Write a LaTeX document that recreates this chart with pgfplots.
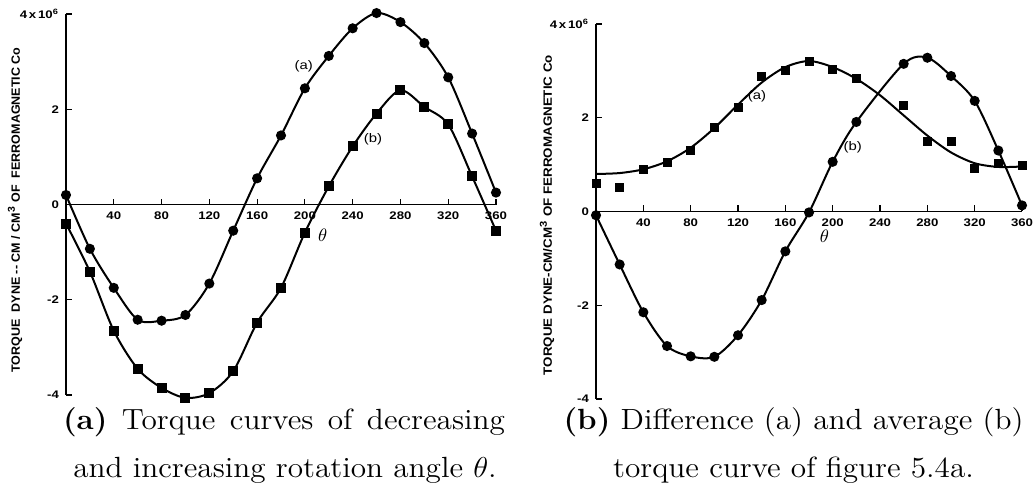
\documentclass[border=0pt]{standalone}
\usepackage{pgfplots}
\pgfplotsset{compat=1.18}
\usepackage{fontspec}
\usepackage{graphicx}
\newfontfamily\tkf[FakeStretch=1.2]{Liberation Sans}
\newfontfamily\lblf{Liberation Sans}

\pgfplotstableread{
x y
0 0.2
20 -0.93
40 -1.75
60 -2.42
80 -2.44
100 -2.32
120 -1.66
140 -0.55
160 0.55
180 1.45
200 2.44
220 3.12
240 3.7
260 4.02
280 3.83
300 3.39
320 2.67
340 1.49
360 0.25
}\leftA
\pgfplotstableread{
x y
0 -0.4
20 -1.41
40 -2.65
60 -3.45
80 -3.85
100 -4.06
120 -3.96
140 -3.5
160 -2.48
180 -1.75
200 -0.59
220 0.38
240 1.22
260 1.91
280 2.4
300 2.05
320 1.68
340 0.59
360 -0.55
}\leftB
\pgfplotstableread{
x y
0 0.6
20 0.51
40 0.89
60 1.04
80 1.3
100 1.79
120 2.21
140 2.89
160 3.02
180 3.21
200 3.04
220 2.83
260 2.26
280 1.49
300 1.49
320 0.91
340 1.02
360 0.98
}\rightA
\pgfplotstableread{
x y
0 0.8
20 0.82
40 0.9
60 1.07
80 1.36
100 1.78
120 2.28
140 2.75
160 3.08
180 3.21
200 3.08
220 2.83
240 2.48
260 2.05
280 1.62
300 1.26
320 1.03
340 0.95
360 0.96
}\rightAfit
\pgfplotstableread{
x y
0 -0.08
20 -1.13
40 -2.15
60 -2.87
80 -3.09
100 -3.1
120 -2.64
140 -1.89
160 -0.85
180 -0.02
200 1.06
220 1.91
260 3.15
280 3.28
300 2.89
320 2.36
340 1.3
360 0.13
}\rightB

\tikzset{lab/.style={font=\tkf\fontsize{6.2}{7}\selectfont}}
\pgfplotsset{
  myax/.style={
    scale only axis,
    axis x line=middle, axis y line=left,
    axis line style={line width=0.75pt,-},
    xmin=0,xmax=360,ymin=-4,ymax=4,
    xtick={40,80,...,360},
    xticklabels={40,80,120,160,200,240,280,320,360},
    ytick={-4,-2,0,2,4},
    yticklabels={-4,-2,0,2,{4\,x\,10\textsuperscript{6}}},
    tick style={line width=0.6pt,black},
    major tick length=3pt,
    tick align=inside,
    tick label style={font=\tkf\bfseries\fontsize{5.5}{6}\selectfont},
    clip=false,
  },
  circ/.style={black, line width=1pt, smooth, mark=*, mark size=2pt, mark options={solid,fill=black}},
  sq/.style={black, line width=1pt, smooth, mark=square*, mark size=2pt, mark options={solid,fill=black}},
  sqonly/.style={black, only marks, mark=square*, mark size=2pt, mark options={solid,fill=black}},
}
\newlength\capw
\newlength\capL

\begin{document}
\settowidth\capw{\normalfont\fontsize{14.6}{17}\selectfont \textbf{(b)} Difference (a) and average (b)}%
\pgfmathsetmacro\capf{230pt/\capw}%
\pgfmathsetlength\capL{221pt/\capf}%
\begin{tikzpicture}
\useasboundingbox (0,0) rectangle (518pt,243pt);

\begin{axis}[myax, at={(33pt,45.5pt)}, anchor=south west, width=215pt, height=190.5pt]
\addplot[circ] table[x=x,y=y] {\leftA};
\addplot[sq] table[x=x,y=y] {\leftB};
\node[lab] at (axis cs:199,2.9) {(a)};
\node[lab] at (axis cs:257,1.37) {(b)};
\node[font=\fontsize{9}{10}\selectfont] at (axis cs:215,-0.65) {$\theta$};
\end{axis}

\begin{axis}[myax, at={(298pt,43.5pt)}, anchor=south west, width=213pt, height=187.5pt]
\addplot[black, line width=1pt, smooth] table[x=x,y=y] {\rightAfit};
\addplot[sqonly] table[x=x,y=y] {\rightA};
\addplot[circ] table[x=x,y=y] {\rightB};
\node[lab] at (axis cs:136,2.45) {(a)};
\node[lab] at (axis cs:217,1.36) {(b)};
\node[font=\fontsize{9}{10}\selectfont] at (axis cs:193,-0.53) {$\theta$};
\end{axis}

\node[rotate=90, inner sep=0] at (7.5pt,138pt) {\resizebox{162.5pt}{\height}{\lblf\bfseries\fontsize{6}{7}\selectfont TORQUE\ \ DYNE -- CM / CM\textsuperscript{3} OF\ \ FERROMAGNETIC Co}};
\node[rotate=90, inner sep=0] at (273.5pt,135.5pt) {\resizebox{160pt}{\height}{\lblf\bfseries\fontsize{6}{7}\selectfont TORQUE DYNE-CM/CM\textsuperscript{3} OF FERROMAGNETIC Co}};

\node[anchor=base, inner sep=0, font=\fontsize{14.6}{17}\selectfont] at (142pt,28pt) {\scalebox{\capf}[1]{\makebox[\capL][s]{\textbf{(a)} Torque curves of decreasing}}};
\node[anchor=base, inner sep=0, font=\fontsize{14.6}{17}\selectfont] at (142.5pt,4.5pt) {\scalebox{\capf}[1]{and increasing rotation angle $\theta$.}};
\node[anchor=base, inner sep=0, font=\fontsize{14.6}{17}\selectfont] at (396.75pt,28pt) {\scalebox{\capf}[1]{\textbf{(b)} Difference (a) and average (b)}};
\node[anchor=base, inner sep=0, font=\fontsize{14.6}{17}\selectfont] at (396.75pt,4.5pt) {\scalebox{\capf}[1]{torque curve of figure 5.4a.}};
\end{tikzpicture}
\end{document}
